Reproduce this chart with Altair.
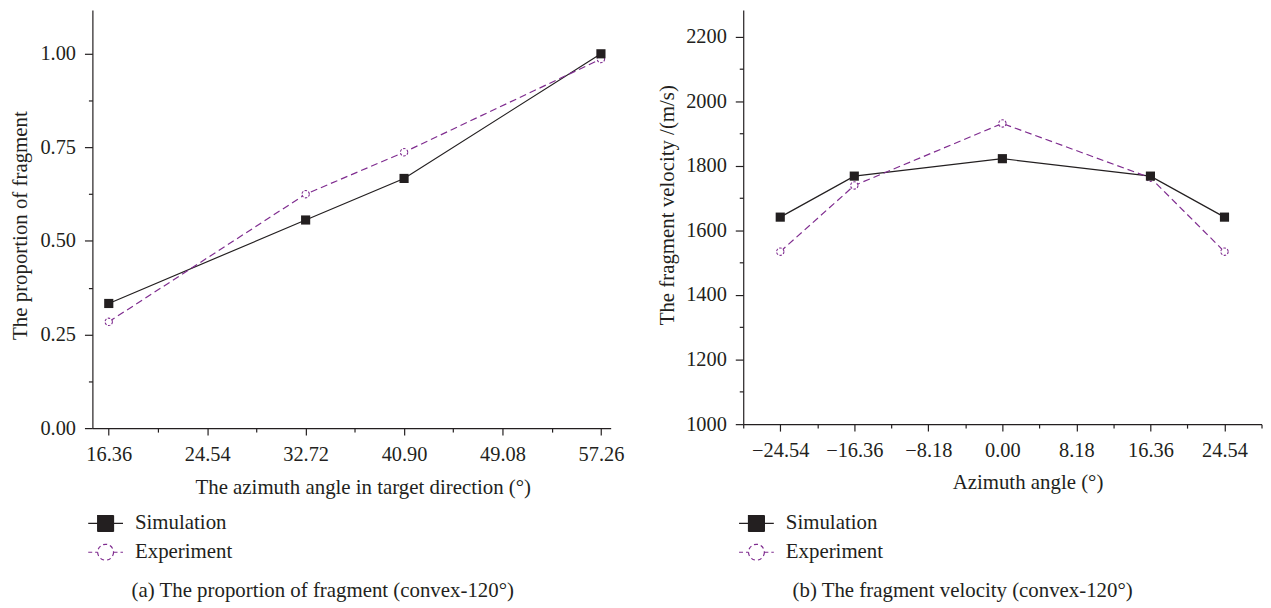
import json
import altair as alt
import pandas as pd

SERIES = ["Simulation", "Experiment"]

# (a) proportion of fragment
angle_a = [16.36, 32.72, 40.90, 57.26]
sim_a = [0.333, 0.556, 0.667, 1.000]
exp_a = [0.284, 0.625, 0.737, 0.986]

# (b) fragment velocity
angle_b = [-24.54, -16.36, 0.00, 16.36, 24.54]
sim_b = [1641, 1768, 1822, 1768, 1641]
exp_b = [1534, 1739, 1931, 1763, 1534]

# tick labels
xticks_a_major = [16.36, 24.54, 32.72, 40.90, 49.08, 57.26]
xticks_a_all = [16.36, 20.45, 24.54, 28.63, 32.72, 36.81, 40.90, 44.99, 49.08, 53.17, 57.26]
yticks_a_major = [0.0, 0.25, 0.5, 0.75, 1.0]
yticks_a_all = [0.0, 0.125, 0.25, 0.375, 0.5, 0.625, 0.75, 0.875, 1.0]
xticks_b_major = [-24.54, -16.36, -8.18, 0.0, 8.18, 16.36, 24.54]
xticks_b_all = [-28.63, -24.54, -20.45, -16.36, -12.27, -8.18, -4.09, 0.0,
                4.09, 8.18, 12.27, 16.36, 20.45, 24.54, 28.63]
yticks_b_major = [1000, 1200, 1400, 1600, 1800, 2000, 2200]
yticks_b_all = [1000, 1100, 1200, 1300, 1400, 1500, 1600, 1700, 1800, 1900,
                2000, 2100, 2200]

INK = "#231f20"
PURPLE = "#7f2c8f"
FONT = "Liberation Serif"
TEXT_SIZE = 21
LABEL_SIZE = 20.5

LEGEND_PATHS = [
    "M-1.75,0H-0.8M0.8,0H1.75M-0.8,-0.8H0.8V0.8H-0.8Z",
    "M-1.75,0H-0.8M0.8,0H1.75M0.8,0A0.8,0.8,0,1,1,-0.8,0A0.8,0.8,0,1,1,0.8,0Z",
]


def frame(xs, sim, exp):
    rows = []
    for x, s, e in zip(xs, sim, exp):
        rows.append({"x": x, "y": s, "series": SERIES[0]})
        rows.append({"x": x, "y": e, "series": SERIES[1]})
    return pd.DataFrame(rows)


def major_test(vals):
    return f"indexof({json.dumps(vals)}, datum.value) >= 0"


def make_axis(all_vals, major, fmt, title, major_size, title_x, title_y,
              label_pad, is_y):
    test = major_test(major)
    kw = dict(
        values=all_vals,
        format=fmt,
        labelExpr=f"{test} ? datum.label : ''",
        tickSize={"condition": {"test": test, "value": major_size}, "value": 4},
        labelPadding=label_pad,
        title=title,
        titleX=title_x,
        titleY=title_y,
        grid=False,
        labelFlush=False,
        labelOverlap=False,
    )
    if is_y:
        kw.update(titleAngle=270, titleBaseline="bottom", titleAlign="center")
    else:
        kw.update(titleBaseline="middle", titleAlign="center")
    return alt.Axis(**kw)


def panel(df, xdom, ydom, xaxis, yaxis, width, height, caption, cap_dx, cap_offset):
    x = alt.X("x:Q", scale=alt.Scale(domain=xdom, nice=False, zero=False), axis=xaxis)
    y = alt.Y("y:Q", scale=alt.Scale(domain=ydom, nice=False, zero=False), axis=yaxis)
    base = alt.Chart(df).encode(x=x, y=y)
    sim = base.transform_filter(alt.datum.series == SERIES[0])
    exp = base.transform_filter(alt.datum.series == SERIES[1])

    line_sim = sim.mark_line(color=INK, strokeWidth=1.2)
    line_exp = exp.mark_line(color=PURPLE, strokeWidth=1.2, strokeDash=[7, 4])
    pt_exp = exp.mark_point(shape="circle", size=55, stroke=PURPLE, fill="white",
                            fillOpacity=1, filled=False, strokeWidth=1.1,
                            strokeDash=[2.5, 1.5], opacity=1)
    pt_sim = sim.mark_square(size=85, color=INK, opacity=1)

    leg = alt.Legend(
        title=None, orient="none", legendX=2.3, legendY=506, padding=0,
        symbolSize=400, symbolStrokeWidth=1.2, symbolOpacity=1,
        rowPadding=7, labelOffset=18.6, labelFont=FONT, labelFontSize=TEXT_SIZE,
        labelColor=INK, labelLimit=0,
    )
    legend_layer = base.mark_point(opacity=0).encode(
        shape=alt.Shape("series:N", scale=alt.Scale(domain=SERIES, range=LEGEND_PATHS), legend=leg),
        fill=alt.Fill("series:N", scale=alt.Scale(domain=SERIES, range=[INK, "white"]), legend=leg),
        stroke=alt.Stroke("series:N", scale=alt.Scale(domain=SERIES, range=[INK, PURPLE]), legend=leg),
        strokeDash=alt.StrokeDash("series:N", scale=alt.Scale(domain=SERIES, range=[[1, 0], [4, 3]]), legend=leg),
    )

    return alt.layer(line_sim, line_exp, pt_exp, pt_sim, legend_layer).properties(
        width=width, height=height,
        title=alt.TitleParams(caption, orient="bottom", anchor="middle", frame="group",
                              dx=cap_dx, offset=cap_offset, font=FONT, fontSize=TEXT_SIZE,
                              fontWeight="normal", color=INK),
    )


df_a = frame(angle_a, sim_a, exp_a)
df_b = frame(angle_b, sim_b, exp_b)

chart_a = panel(
    df_a, [15.0, 58.07], [0, 1.1167],
    make_axis(xticks_a_all, xticks_a_major, ".2f",
              "The azimuth angle in target direction (\u00b0)", 7, 272.3, 60, 10, False),
    make_axis(yticks_a_all, yticks_a_major, ".2f", "The proportion of fragment",
              8, -62, 216.5, 9, True),
    522, 421, "(a)  The proportion of fragment (convex-120\u00b0)", -29, 17,
)

chart_b = panel(
    df_b, [-28.63, 28.63], [1000, 2282],
    make_axis(xticks_b_all, xticks_b_major, ".2f", "Azimuth angle (\u00b0)", 7, 286.3, 59, 10, False),
    make_axis(yticks_b_all, yticks_b_major, "d", "The fragment velocity /(m/s)",
              8, -66, 196, 9, True),
    522, 417, "(b)  The fragment velocity (convex-120\u00b0)", -40, 17,
)

IND = "independent"
chart = alt.hconcat(chart_a, chart_b, spacing=32.5).properties(
    padding={"left": 2, "top": 0, "right": 0, "bottom": 0}
).resolve_scale(
    shape=IND, fill=IND, stroke=IND, strokeDash=IND
).resolve_legend(
    shape=IND, fill=IND, stroke=IND, strokeDash=IND
).configure_view(stroke=None).configure_axis(
    labelFont=FONT, labelFontSize=LABEL_SIZE, labelColor=INK,
    titleFont=FONT, titleFontSize=TEXT_SIZE, titleFontWeight="normal", titleColor=INK,
    domainColor=INK, domainWidth=1.2, tickColor=INK, tickWidth=1.2,
).configure_concat(spacing=32.5)

chart.save("out.html", embed_options={"renderer": "svg", "actions": False})
